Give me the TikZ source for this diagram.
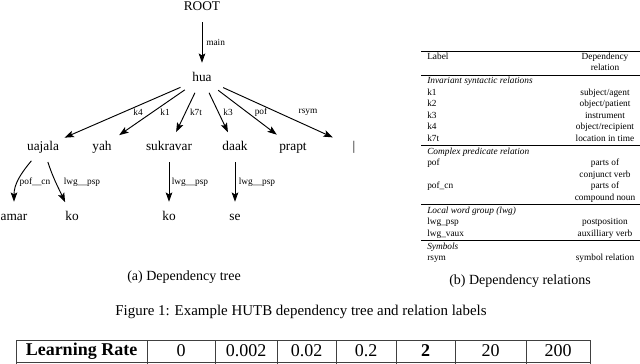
\documentclass[tikz,border=0pt]{standalone}
\usepackage{fontspec}
\setmainfont{Liberation Serif}
\usetikzlibrary{shapes.geometric, arrows.meta, positioning}

\tikzset{
    word/.style={ellipse, minimum width=40.5pt, minimum height=22.5pt, inner sep=0pt,
        text height=7pt, text depth=2pt, font=\fontsize{10}{12}\selectfont},
    deplabel/.style={font=\fontsize{7}{8}\selectfont, inner sep=0pt},
    dep/.style={-{Stealth[length=7pt, width=5pt, inset=1.5pt]}, line width=0.7pt},
    cell/.style={font=\fontsize{7}{8}\selectfont, inner sep=0pt, text height=5pt, text depth=1.5pt},
    rule/.style={line width=0.5pt},
    grid/.style={line width=0.6pt, black!75},
    lrate/.style={font=\fontsize{13.5}{15}\selectfont, inner sep=0pt},
    caption/.style={font=\fontsize{10.5}{12}\selectfont, inner sep=0pt}
}

\begin{document}
\begin{tikzpicture}[x=0.75pt, y=0.75pt]
    \useasboundingbox (0,0) rectangle (640,-364);

    % Dependency tree - left side
    \node[word] (root) at (202,-7) {ROOT};
    \node[word] (hua) at (202,-78) {hua};
    \node[word] (uajala) at (43,-147) {uajala};
    \node[word] (yah) at (102,-147) {yah};
    \node[word] (sukravar) at (169,-147) {sukravar};
    \node[word] (daak) at (235,-147) {daak};
    \node[word] (prapt) at (293,-147) {prapt};
    \node[word] (danda) at (354,-147) {|};
    \node[word] (amar) at (14,-217) {amar};
    \node[word] (kofirst) at (72,-217) {ko};
    \node[word] (kosecond) at (169,-217) {ko};
    \node[word] (se) at (235,-217) {se};

    % Dependencies
    \draw[dep] (root) -- (hua);
    \draw[dep] (hua) -- (uajala);
    \draw[dep] (hua) -- (yah);
    \draw[dep] (hua) -- (sukravar);
    \draw[dep] (hua) -- (daak);
    \draw[dep] (hua) -- (prapt);
    \draw[dep] (hua) -- (danda);
    \draw[dep] (uajala) to[out=-130, in=90] (amar);
    \draw[dep] (uajala) to[out=-72, in=115] (kofirst);
    \draw[dep] (sukravar) -- (kosecond);
    \draw[dep] (daak) -- (se);

    % Relation labels on the edges
    \node[deplabel, anchor=west] (lmain) at (206,-42) {main};
    \node[deplabel] (lkfour) at (138,-112) {k4};
    \node[deplabel] (lkone) at (165,-112) {k1};
    \node[deplabel] (lkseven) at (196,-112) {k7t};
    \node[deplabel] (lkthree) at (228,-112) {k3};
    \node[deplabel] (lpof) at (261,-112) {pof};
    \node[deplabel] (lrsym) at (308,-112) {rsym};
    \node[deplabel] (lpofcn) at (35,-182) {pof\_\_cn};
    \node[deplabel] (lpspa) at (82,-182) {lwg\_\_psp};
    \node[deplabel] (lpspb) at (190,-182) {lwg\_\_psp};
    \node[deplabel] (lpspc) at (257,-182) {lwg\_\_psp};

    \node[caption] (capa) at (184,-277) {(a) Dependency tree};

    % Relation table - right side
    \draw[rule] (421,-51) -- (640,-51);
    \node[cell, anchor=west] (hdlabel) at (427,-57.5) {Label};
    \node[cell] (hddep) at (605,-57.5) {Dependency};
    \node[cell] (hdrel) at (605,-68.5) {relation};
    \draw[rule] (421,-75) -- (640,-75);
    \node[cell, anchor=west] (grpinv) at (427,-81.5) {\itshape Invariant syntactic relations};
    \node[cell, anchor=west] (relkone) at (427,-93) {k1};
    \node[cell] (desckone) at (605,-93) {subject/agent};
    \node[cell, anchor=west] (relktwo) at (427,-104.5) {k2};
    \node[cell] (descktwo) at (605,-104.5) {object/patient};
    \node[cell, anchor=west] (relkthree) at (427,-116) {k3};
    \node[cell] (desckthree) at (605,-116) {instrument};
    \node[cell, anchor=west] (relkfour) at (427,-127.5) {k4};
    \node[cell] (desckfour) at (605,-127.5) {object/recipient};
    \node[cell, anchor=west] (relkseven) at (427,-139) {k7t};
    \node[cell] (desckseven) at (605,-139) {location in time};
    \draw[rule] (421,-145.5) -- (640,-145.5);
    \node[cell, anchor=west] (grpcomplex) at (427,-152) {\itshape Complex predicate relation};
    \node[cell, anchor=west] (relpof) at (427,-163.5) {pof};
    \node[cell] (descpof) at (605,-163.5) {parts of};
    \node[cell] (descpofb) at (605,-175) {conjunct verb};
    \node[cell, anchor=west] (relpofcn) at (427,-186.5) {pof\_cn};
    \node[cell] (descpofcn) at (605,-186.5) {parts of};
    \node[cell] (descpofcnb) at (605,-198) {compound noun};
    \draw[rule] (421,-204.5) -- (640,-204.5);
    \node[cell, anchor=west] (grplwg) at (427,-211) {\itshape Local word group (lwg)};
    \node[cell, anchor=west] (relpsp) at (427,-222.5) {lwg\_psp};
    \node[cell] (descpsp) at (605,-222.5) {postposition};
    \node[cell, anchor=west] (relvaux) at (427,-234) {lwg\_vaux};
    \node[cell] (descvaux) at (605,-234) {auxilliary verb};
    \draw[rule] (421,-240.5) -- (640,-240.5);
    \node[cell, anchor=west] (grpsym) at (427,-247) {\itshape Symbols};
    \node[cell, anchor=west] (relrsym) at (427,-258.5) {rsym};
    \node[cell] (descrsym) at (605,-258.5) {symbol relation};

    \node[caption] (capb) at (520,-281) {(b) Dependency relations};

    % Figure caption
    \node[caption, font=\fontsize{11.2}{13}\selectfont] (capfig) at (301,-312) {Figure 1: Example HUTB dependency tree and relation labels};

    % Learning rate table - bottom
    \draw[grid] (16,-340) -- (590,-340);
    \draw[grid] (16,-362) -- (590,-362);
    \foreach \x in {16,147,215,277,336,396,455,526,590}
        \draw[grid] (\x,-340) -- (\x,-364);
    \node[lrate, font=\fontsize{13.5}{15}\selectfont\bfseries] (lrname) at (81.5,-351) {Learning Rate};
    \node[lrate] (lrzero) at (181,-351) {0};
    \node[lrate] (lrone) at (246,-351) {0.002};
    \node[lrate] (lrtwo) at (306.5,-351) {0.02};
    \node[lrate] (lrthree) at (366,-351) {0.2};
    \node[lrate, font=\fontsize{13.5}{15}\selectfont\bfseries] (lrfour) at (425.5,-351) {2};
    \node[lrate] (lrfive) at (490.5,-351) {20};
    \node[lrate] (lrsix) at (558,-351) {200};
\end{tikzpicture}
\end{document}
